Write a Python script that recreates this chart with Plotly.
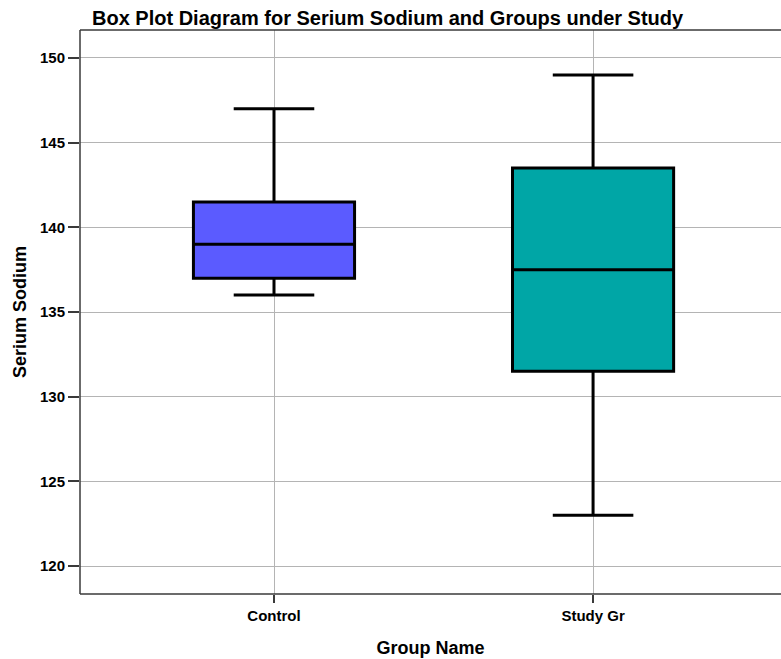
import plotly.graph_objects as go

# Summary statistics of serum sodium per group
groups = ["Control", "Study Gr"]
lower_whisker = [136, 123]
q1 = [137, 131.5]
median = [139, 137.5]
q3 = [141.5, 143.5]
upper_whisker = [147, 149]
colors = ["#5B5BFF", "#00A6A6"]

y_ticks = [120, 125, 130, 135, 140, 145, 150]

FONT = "Arial, Liberation Sans, sans-serif"
FRAME = "#3A3A3A"

fig = go.Figure()
for i, g in enumerate(groups):
    fig.add_trace(go.Box(
        x=[i],
        q1=[q1[i]], median=[median[i]], q3=[q3[i]],
        lowerfence=[lower_whisker[i]], upperfence=[upper_whisker[i]],
        name=g,
        fillcolor=colors[i],
        line=dict(color="black", width=3),
        width=0.505,
        whiskerwidth=0.5,
        boxpoints=False,
        showlegend=False,
        hoverinfo="skip",
    ))

# open frame: left, bottom and top edges only
for x0, x1, y0, y1 in [(0, 0, 0, 1), (0, 1.01, 0, 0), (0, 1.01, 1, 1)]:
    fig.add_shape(type="line", xref="paper", yref="paper",
                  x0=x0, x1=x1, y0=y0, y1=y1,
                  line=dict(color=FRAME, width=1.5), layer="above")

fig.update_layout(
    width=781, height=659,
    margin=dict(l=80, r=0, t=30, b=65),
    paper_bgcolor="white",
    plot_bgcolor="white",
    title=dict(
        text="<b>Box Plot Diagram for Serium Sodium and Groups under Study</b>",
        x=92 / 781, xanchor="left", y=1 - 18 / 659, yanchor="middle",
        font=dict(family=FONT, size=20, color="black"),
    ),
    xaxis=dict(
        range=[-0.608, 1.589],
        tickmode="array", tickvals=[0, 1],
        ticktext=[f"<b>{g}</b>" for g in groups],
        showgrid=True, gridcolor="#B4B4B4", gridwidth=1,
        zeroline=False,
        showline=False,
        ticks="outside", ticklen=8, tickwidth=1.5, tickcolor=FRAME,
        tickfont=dict(family=FONT, size=15, color="black"),
        title=dict(text="<b>Group Name</b>", standoff=18,
                   font=dict(family=FONT, size=18, color="black")),
    ),
    yaxis=dict(
        range=[118.35, 151.65],
        tickmode="array", tickvals=y_ticks,
        ticktext=[f"<b>{v}</b>" for v in y_ticks],
        showgrid=True, gridcolor="#B4B4B4", gridwidth=1,
        zeroline=False,
        showline=False,
        ticks="outside", ticklen=11, tickwidth=1.5, tickcolor=FRAME,
        tickfont=dict(family=FONT, size=15, color="black"),
        title=dict(text="<b>Serium Sodium</b>", standoff=8,
                   font=dict(family=FONT, size=18, color="black")),
    ),
)

fig.write_html("out.html")
